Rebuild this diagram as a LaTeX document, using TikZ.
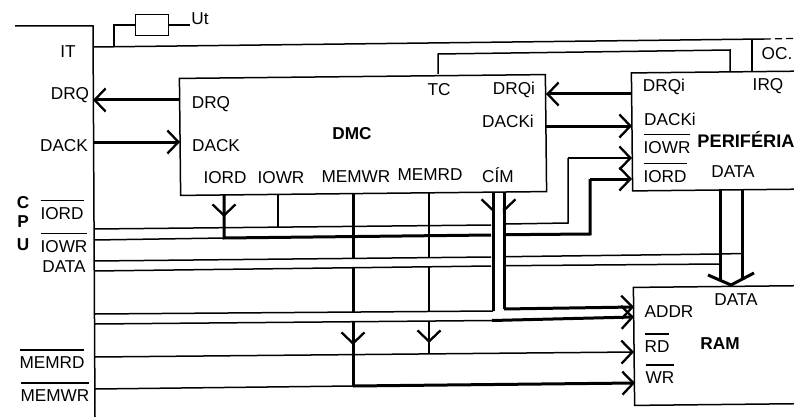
\documentclass[tikz,border=0pt]{standalone}
\usepackage{fontspec}
\setmainfont{Liberation Sans}
\usetikzlibrary{arrows.meta}

% bar set well above a signal name
\newcommand{\barred}[1]{\leavevmode\vbox{\hrule height 1.3pt\kern 5.5pt\hbox{#1}}}

\begin{document}
\begin{tikzpicture}[
    x=1pt,
    y=-1pt,
    font=\fontsize{17.2}{19}\selectfont,
    wire/.style={line width=1.5pt},
    bus/.style={line width=3pt},
    block/.style={
      draw,
      line width=1.5pt,
      rotate=0.6,
      inner sep=0pt
    },
    lbl/.style={
      inner sep=0pt
    },
    title/.style={
      lbl,
      font=\fontsize{17.2}{19}\selectfont\bfseries
    },
    chevron/.style={
      -{Straight Barb[length=11pt, width=23pt, line width=2.3pt]}
    },
    halfleft/.style={
      -{Straight Barb[length=11pt, width=23pt, line width=2.3pt, left]}
    },
    halfright/.style={
      -{Straight Barb[length=11pt, width=23pt, line width=2.3pt, right]}
    }
  ]
    \useasboundingbox (0,0) rectangle (794,417);
    \clip (0,0) rectangle (794,417);

    % Blocks
    \node[block, minimum width=366pt, minimum height=117pt] (dmc) at (363,135) {};
    \node[block, minimum width=174pt, minimum height=118pt] (peri) at (719,131) {};
    \node[block, minimum width=174pt, minimum height=118pt] (ram) at (721,345.5) {};
    \node[draw, line width=1.5pt, minimum width=33pt, minimum height=21pt, inner sep=0pt] (res) at (152,25) {};

    % CPU edge
    \coordinate (cpuA) at (15,26);
    \coordinate (cpuB) at (93,26);
    \coordinate (cpuC) at (95,417);
    \draw[wire] (cpuA) -- (cpuB) -- (cpuC);

    % Pins on the CPU edge
    \coordinate (cpuIT) at (93,47);
    \coordinate (cpuDRQ) at (93,100);
    \coordinate (cpuDACK) at (93,142);
    \coordinate (cpuIORD) at (94,229);
    \coordinate (cpuIOWR) at (94,240);
    \coordinate (cpuD1) at (94,261);
    \coordinate (cpuD2) at (94,271);
    \coordinate (cpuA1) at (95,314);
    \coordinate (cpuA2) at (95,324);
    \coordinate (cpuRD) at (95,357);
    \coordinate (cpuWR) at (95,389);

    % Pins on the blocks
    \coordinate (dmcDRQ) at (180,100);
    \coordinate (dmcDACK) at (180,142);
    \coordinate (dmcTC) at (438,74);
    \coordinate (dmcDRQi) at (546,94);
    \coordinate (dmcDACKi) at (546,126);
    \coordinate (dmcIORD) at (224,195);
    \coordinate (dmcIOWR) at (278,195);
    \coordinate (dmcMEMWR) at (353,194);
    \coordinate (dmcMEMRD) at (429,193);
    \coordinate (dmcA1) at (493,192);
    \coordinate (dmcA2) at (504,192);
    \coordinate (periTC) at (730,71);
    \coordinate (periDRQi) at (632,94);
    \coordinate (periDACKi) at (632,126);
    \coordinate (periIOWR) at (632,158);
    \coordinate (periIORD) at (632,179);
    \coordinate (periIRQ) at (752,71);
    \coordinate (periD1) at (720,189);
    \coordinate (periD2) at (742,189);
    \coordinate (ramD1) at (720,280);
    \coordinate (ramD2) at (742,280);
    \coordinate (ramDT) at (731,285);
    \coordinate (ramDL) at (708,275);
    \coordinate (ramDR) at (754,273);
    \coordinate (ramA1) at (634,307);
    \coordinate (ramA2) at (634,317);
    \coordinate (ramRD) at (634,352);
    \coordinate (ramWR) at (635,383);

    % Bends and crossings
    \coordinate (itJ) at (114,46.7);
    \coordinate (itK) at (764,39);
    \coordinate (itE) at (794,38.5);
    \coordinate (itO) at (752,39);
    \coordinate (resL) at (114,25);
    \coordinate (utEnd) at (190,25);
    \coordinate (tcA) at (438,54);
    \coordinate (tcB) at (730,50);
    \coordinate (iordA) at (491,225);
    \coordinate (iordB) at (506,224);
    \coordinate (iordC) at (568,223);
    \coordinate (iordD) at (568,158);
    \coordinate (iowrJ) at (224,238);
    \coordinate (iowrA) at (491,235);
    \coordinate (iowrB) at (506,234.7);
    \coordinate (iowrC) at (590,234);
    \coordinate (iowrD) at (590,179);
    \coordinate (d1A) at (491,257);
    \coordinate (d1B) at (506,256.7);
    \coordinate (d1C) at (720,254);
    \coordinate (d1D) at (742,253.5);
    \coordinate (d2A) at (491,266);
    \coordinate (d2B) at (506,265.7);
    \coordinate (d2C) at (720,264);
    \coordinate (a1T) at (493,311);
    \coordinate (a2T) at (504,309);
    \coordinate (a2L) at (492,320.5);
    \coordinate (wrJ) at (353,386);
    \coordinate (mwUp) at (353,258);
    \coordinate (mwDn) at (353,268);
    \coordinate (mwEnd) at (353,312);
    \coordinate (mrUp) at (429,258);
    \coordinate (mrDn) at (429,267);
    \coordinate (mrEnd) at (429,311);
    \coordinate (lwTop) at (353,322);
    \coordinate (lrTop) at (429,322);
    \coordinate (lrEnd) at (429,353);

    % Signal wires
    \draw[wire] (cpuIT) -- (itK);
    \draw[line width=1.2pt, dash pattern=on 7pt off 4pt] (itK) -- (itE);
    \draw[wire] (itO) -- (periIRQ);
    \draw[wire] (itJ) -- (resL) -- (res.west);
    \draw[wire] (res.east) -- (utEnd);
    \draw[wire] (dmcTC) -- (tcA) -- (tcB) -- (periTC);
    \draw[wire] (cpuIORD) -- (iordA);
    \draw[wire] (iordB) -- (iordC) -- (iordD);
    \draw[wire, chevron] (iordD) -- (periIOWR);
    \draw[wire] (cpuIOWR) -- (iowrJ);
    \draw[wire] (cpuD1) -- (d1A);
    \draw[wire] (d1B) -- (d1C) -- (d1D);
    \draw[wire] (cpuD2) -- (d2A);
    \draw[wire] (d2B) -- (d2C);
    \draw[wire] (cpuA1) -- (a1T);
    \draw[wire] (cpuA2) -- (a2L);
    \draw[wire, chevron] (cpuRD) -- (ramRD);
    \draw[wire] (cpuWR) -- (wrJ);
    \draw[wire] (dmcIOWR) -- ++(0,32);
    \draw[wire] (dmcMEMRD) -- (mrUp);
    \draw[wire] (mrDn) -- (mrEnd);
    \draw[wire, chevron] (lrTop) -- ++(0,21);
    \draw[wire] (lrTop) -- (lrEnd);

    % Thick lines
    \draw[bus, chevron] (dmcDRQ) -- (cpuDRQ);
    \draw[bus, chevron] (cpuDACK) -- (dmcDACK);
    \draw[bus, chevron] (periDRQi) -- (dmcDRQi);
    \draw[bus, chevron] (dmcDACKi) -- (periDACKi);
    \draw[bus] (dmcIORD) -- (iowrJ) -- (iowrA);
    \draw[wire, chevron] (dmcIORD) -- ++(0,22);
    \draw[bus] (iowrB) -- (iowrC) -- (iowrD);
    \draw[bus, chevron] (iowrD) -- (periIORD);
    \draw[bus] (dmcMEMWR) -- (mwUp);
    \draw[bus] (mwDn) -- (mwEnd);
    \draw[bus] (lwTop) -- (wrJ);
    \draw[wire, chevron] (lwTop) -- ++(0,23);
    \draw[bus, chevron] (wrJ) -- (ramWR);
    \draw[bus] (dmcA1) -- (a1T);
    \draw[wire, halfright] (dmcA1) -- ++(0,21);
    \draw[bus] (dmcA2) -- (a2T);
    \draw[wire, halfleft] (dmcA2) -- ++(0,21);
    \draw[bus, chevron] (a2T) -- (ramA1);
    \draw[bus, chevron] (a2L) -- (ramA2);
    \draw[bus] (periD1) -- (ramD1);
    \draw[bus] (periD2) -- (ramD2);
    \draw[bus] (ramDL) -- (ramDT) -- (ramDR);

    % CPU labels
    \node[lbl] (ut) at (200,19) {Ut};
    \node[lbl] (lIT) at (68,52) {IT};
    \node[lbl] (lDRQ) at (70,95) {DRQ};
    \node[lbl] (lDACK) at (64,146) {DACK};
    \node[title] (lC) at (23,203) {C};
    \node[title] (lP) at (23,222) {P};
    \node[title] (lU) at (23,245) {U};
    \node[lbl, anchor=base] (lIORD) at (62,219) {\barred{IORD}};
    \node[lbl, anchor=base] (lIOWR) at (64,252) {\barred{IOWR}};
    \node[lbl] (lDATA) at (64,267) {DATA};
    \node[lbl, anchor=base] (lMEMRD) at (52,368) {\barred{MEMRD}};
    \node[lbl, anchor=base] (lMEMWR) at (55,401) {\barred{MEMWR}};

    % DMC labels
    \node[title] (lDMC) at (352,134) {DMC};
    \node[lbl] (dDRQ) at (211,104) {DRQ};
    \node[lbl] (dDACK) at (216,146) {DACK};
    \node[lbl] (dIORD) at (225,178) {IORD};
    \node[lbl] (dIOWR) at (281,178) {IOWR};
    \node[lbl] (dMEMWR) at (356,177) {MEMWR};
    \node[lbl] (dMEMRD) at (430,175) {MEMRD};
    \node[lbl] (dCIM) at (498,175) {CÍM};
    \node[lbl] (dTC) at (439,90) {TC};
    \node[lbl] (dDRQi) at (514,90) {DRQi};
    \node[lbl] (dDACKi) at (508,121) {DACKi};

    % Peripheral labels
    \node[lbl] (lOC) at (777,54) {OC.};
    \node[title, font=\fontsize{18.2}{19}\selectfont\bfseries] (lPERI) at (746,139) {PERIFÉRIA};
    \node[lbl] (pDRQi) at (664,87) {DRQi};
    \node[lbl] (pIRQ) at (768,86) {IRQ};
    \node[lbl] (pDACKi) at (670,119) {DACKi};
    \node[lbl, anchor=base] (pIOWR) at (667,153) {\barred{IOWR}};
    \node[lbl, anchor=base] (pIORD) at (665,182) {\barred{IORD}};
    \node[lbl] (pDATA) at (733,172) {DATA};

    % RAM labels
    \node[title] (lRAM) at (720,344) {RAM};
    \node[lbl] (rDATA) at (736,300) {DATA};
    \node[lbl] (rADDR) at (669,312) {ADDR};
    \node[lbl, anchor=base] (rRD) at (657,352) {\barred{RD}};
    \node[lbl, anchor=base] (rWR) at (660,383) {\barred{WR}};

  \end{tikzpicture}
\end{document}
